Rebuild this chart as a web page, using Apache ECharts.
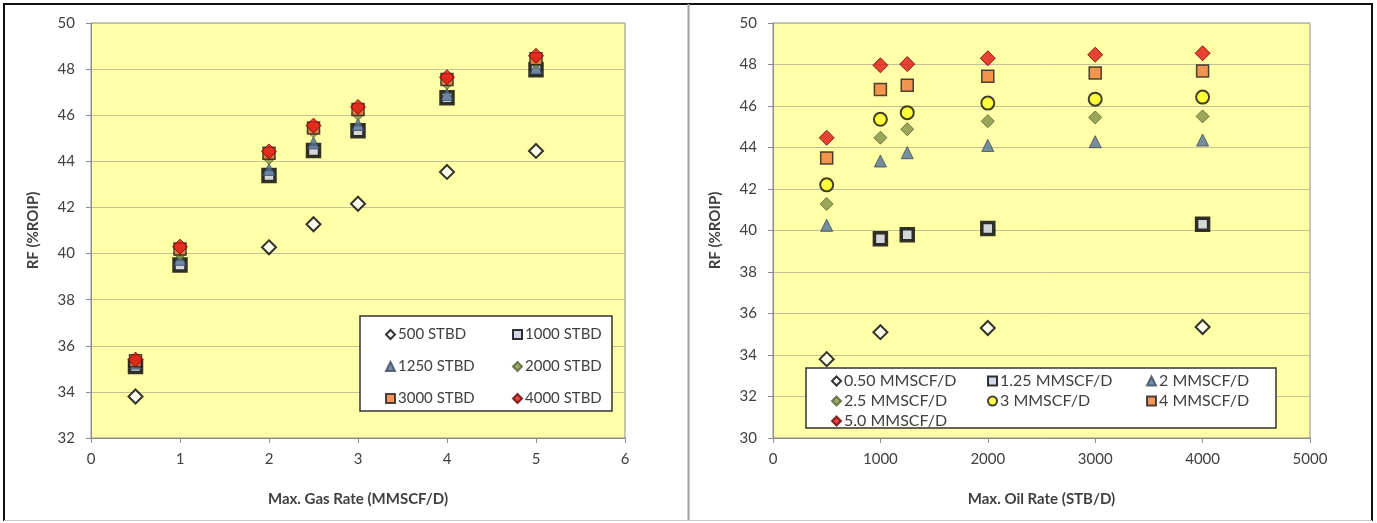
<!DOCTYPE html>
<html>
<head>
<meta charset="utf-8">
<script src="https://cdn.jsdelivr.net/npm/echarts@6/dist/echarts.min.js"></script>
<style>
  html, body { margin: 0; padding: 0; background: #ffffff; }
  #chart { width: 1377px; height: 523px; }
</style>
</head>
<body>
<div id="chart"></div>
<script>
// Left panel: recovery factor vs. maximum gas rate, one series per oil rate
const gasRates = [0.5, 1, 2, 2.5, 3, 4, 5];
const rf500stbd  = [33.8, null, 40.27, 41.27, 42.16, 43.54, 44.45];
const rf1000stbd = [35.1, 39.5, 43.39, 44.47, 45.33, 46.76, 47.97];
const rf1250stbd = [35.25, 39.75, 43.65, 44.8, 45.6, 46.9, 48.05];
const rf2000stbd = [35.35, 40.0, 44.15, 45.3, 46.05, 47.4, 48.3];
const rf3000stbd = [35.35, 40.2, 44.35, 45.45, 46.25, 47.55, 48.45];
const rf4000stbd = [35.4, 40.3, 44.43, 45.55, 46.36, 47.65, 48.58];
const leftNames = ['500 STBD', '1000 STBD', '1250 STBD', '2000 STBD', '3000 STBD', '4000 STBD'];

// Right panel: recovery factor vs. maximum oil rate, one series per gas rate
const oilRates = [500, 1000, 1250, 2000, 3000, 4000];
const rfG050 = [33.8, 35.1, null, 35.3, null, 35.35];
const rfG125 = [null, 39.6, 39.8, 40.1, null, 40.3];
const rfG2   = [40.25, 43.35, 43.75, 44.1, 44.28, 44.36];
const rfG25  = [41.28, 44.47, 44.88, 45.27, 45.45, 45.5];
const rfG3   = [42.2, 45.36, 45.68, 46.14, 46.33, 46.43];
const rfG4   = [43.5, 46.8, 47.0, 47.43, 47.59, 47.69];
const rfG5   = [44.47, 47.96, 48.02, 48.3, 48.47, 48.54];
const rightNames = ['0.50 MMSCF/D', '1.25 MMSCF/D', '2 MMSCF/D', '2.5 MMSCF/D', '3 MMSCF/D', '4 MMSCF/D', '5.0 MMSCF/D'];

// Tick settings
const leftXTicks = { min: 0, max: 6, interval: 1 };
const leftYTicks = { min: 32, max: 50, interval: 2 };
const rightXTicks = { min: 0, max: 5000, interval: 1000 };
const rightYTicks = { min: 30, max: 50, interval: 2 };

const FONT = 'Lato, "Liberation Sans", sans-serif';

// Marker styles shared by both panels (same position in each series list)
const markerStyles = [
  { symbol: 'diamond', size: 14, itemStyle: { color: '#ffffff', borderColor: '#000000', borderWidth: 2 } },
  { symbol: 'rect', size: 12, itemStyle: { color: '#c9cde2', borderColor: '#000000', borderWidth: 3.5 } },
  { symbol: 'triangle', size: 12, itemStyle: { color: '#557398', borderColor: '#3b4a5c', borderWidth: 1 } },
  { symbol: 'diamond', size: 13, itemStyle: { color: '#7f9048', borderColor: '#55632c', borderWidth: 1 } },
  { symbol: 'rect', size: 12, itemStyle: { color: '#f07a34', borderColor: '#1e1e1e', borderWidth: 1.5 } },
  { symbol: 'diamond', size: 15, itemStyle: { color: '#e01414', borderColor: '#6a0000', borderWidth: 1 } }
];
const yellowCircle = { symbol: 'circle', size: 13, itemStyle: { color: '#ffff1e', borderColor: '#111111', borderWidth: 2 } };
const rightStyles = [markerStyles[0], markerStyles[1], markerStyles[2], markerStyles[3], yellowCircle, markerStyles[4], markerStyles[5]];

function pairs(xs, ys) {
  const out = [];
  xs.forEach((x, i) => { if (ys[i] !== null) out.push([x, ys[i]]); });
  return out;
}

function makeSeries(name, style, xs, ys, axisIndex) {
  return {
    type: 'scatter',
    name: name,
    xAxisIndex: axisIndex,
    yAxisIndex: axisIndex,
    symbol: style.symbol,
    symbolSize: style.size,
    itemStyle: style.itemStyle,
    data: pairs(xs, ys)
  };
}

const leftValues = [rf500stbd, rf1000stbd, rf1250stbd, rf2000stbd, rf3000stbd, rf4000stbd];
const rightValues = [rfG050, rfG125, rfG2, rfG25, rfG3, rfG4, rfG5];

const series = [];
leftNames.forEach((n, i) => series.push(makeSeries(n, markerStyles[i], gasRates, leftValues[i], 0)));
rightNames.forEach((n, i) => series.push(makeSeries(n, rightStyles[i], oilRates, rightValues[i], 1)));

function valueAxis(ticks, gridIndex, title, isY, gap) {
  return {
    type: 'value',
    gridIndex: gridIndex,
    min: ticks.min,
    max: ticks.max,
    interval: ticks.interval,
    name: title,
    nameLocation: 'middle',
    nameGap: gap,
    nameTextStyle: { fontFamily: FONT, fontSize: 15, fontWeight: 'bold', color: '#404040' },
    axisLine: { show: true, lineStyle: { color: '#8c8c8c', width: 1 } },
    axisTick: { show: true, length: 5, lineStyle: { color: '#8c8c8c' } },
    axisLabel: { fontFamily: FONT, fontSize: 15, color: '#404040', margin: isY ? 16 : 14, formatter: (v) => String(v) },
    splitLine: isY ? { show: true, lineStyle: { color: '#c4c19a', width: 1 } } : { show: false }
  };
}

// One legend entry per component so the columns line up
function legendEntry(name, left, top, fontSize) {
  return {
    data: [name],
    left: left,
    top: top,
    itemWidth: 9,
    itemHeight: 9,
    itemGap: 4,
    z: 20,
    textStyle: { fontFamily: FONT, fontSize: fontSize, color: '#404040', padding: [0, 0, 0, -2] },
    selectedMode: false
  };
}

const legends = [
  legendEntry(leftNames[0], 380, 322, 15),
  legendEntry(leftNames[1], 507, 322, 15),
  legendEntry(leftNames[2], 380, 354, 15),
  legendEntry(leftNames[3], 507, 354, 15),
  legendEntry(leftNames[4], 380, 386, 15),
  legendEntry(leftNames[5], 507, 386, 15),
  legendEntry(rightNames[0], 826, 368, 16),
  legendEntry(rightNames[1], 982, 368, 16),
  legendEntry(rightNames[2], 1141, 368, 16),
  legendEntry(rightNames[3], 826, 388, 16),
  legendEntry(rightNames[4], 982, 388, 16),
  legendEntry(rightNames[5], 1141, 388, 16),
  legendEntry(rightNames[6], 826, 408, 16)
];

const option = {
  animation: false,
  backgroundColor: '#ffffff',
  grid: [
    { left: 91, top: 23, width: 534, height: 415, show: true, backgroundColor: '#ffffa8', borderColor: '#8c8c8c', borderWidth: 1 },
    { left: 773, top: 23, width: 537, height: 415, show: true, backgroundColor: '#ffffa8', borderColor: '#8c8c8c', borderWidth: 1 }
  ],
  xAxis: [
    valueAxis(leftXTicks, 0, 'Max. Gas Rate (MMSCF/D)', false, 54),
    valueAxis(rightXTicks, 1, 'Max. Oil Rate (STB/D)', false, 54)
  ],
  yAxis: [
    valueAxis(leftYTicks, 0, 'RF (%ROIP)', true, 50),
    valueAxis(rightYTicks, 1, 'RF (%ROIP)', true, 50)
  ],
  legend: legends,
  graphic: [
    // legend boxes
    { type: 'rect', z: 10, shape: { x: 360, y: 316, width: 252, height: 95 }, style: { fill: '#ffffff', stroke: '#333333', lineWidth: 1.5 } },
    { type: 'rect', z: 10, shape: { x: 806, y: 368, width: 470, height: 60 }, style: { fill: '#ffffff', stroke: '#333333', lineWidth: 1.5 } },
    // panel frames
    { type: 'line', z: 30, shape: { x1: 3, y1: 4, x2: 1373, y2: 4 }, style: { stroke: '#111111', lineWidth: 2 } },
    { type: 'line', z: 30, shape: { x1: 4, y1: 3, x2: 4, y2: 521 }, style: { stroke: '#111111', lineWidth: 2 } },
    { type: 'line', z: 30, shape: { x1: 1372, y1: 3, x2: 1372, y2: 521 }, style: { stroke: '#111111', lineWidth: 2 } },
    { type: 'line', z: 30, shape: { x1: 688.5, y1: 4, x2: 688.5, y2: 521 }, style: { stroke: '#a0a0a0', lineWidth: 2 } },
    { type: 'line', z: 30, shape: { x1: 4, y1: 520.5, x2: 1372, y2: 520.5 }, style: { stroke: '#c8c8c8', lineWidth: 1 } }
  ],
  series: series
};

const chart = echarts.init(document.getElementById('chart'), null, { renderer: 'canvas' });
chart.setOption(option);
</script>
</body>
</html>
